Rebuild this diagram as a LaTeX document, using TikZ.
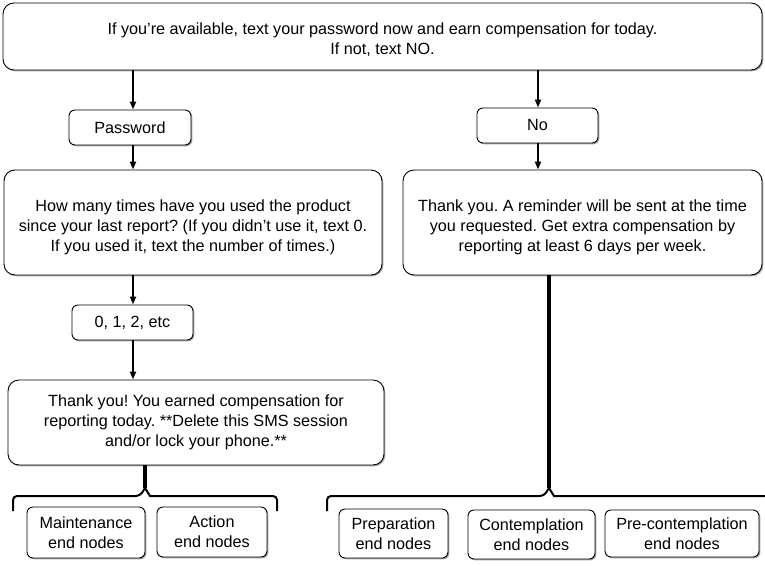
\documentclass[tikz,border=0pt]{standalone}
\usepackage{fontspec}
\setmainfont{Liberation Sans}
\frenchspacing
\usetikzlibrary{shadows,arrows.meta,calc}

\begin{document}
\begin{tikzpicture}[x=1pt,y=-1pt,
  box node/.style={draw,line width=0.9pt,rounded corners=11pt,fill=white,align=center,
    inner sep=0pt,font=\fontsize{16.2}{20}\selectfont,
    drop shadow={shadow xshift=1.3pt,shadow yshift=-1.3pt,fill=black!60,opacity=0.6}},
  small node/.style={box node,rounded corners=6pt},
  step arrow/.style={-{Triangle[length=8pt,width=6pt]},line width=2pt},
  branch line/.style={line width=3.2pt},
  group brace/.style={line width=2pt,rounded corners=4pt}]

\useasboundingbox (0,0) rectangle (765,565);

\node[box node,minimum width=759,minimum height=67,text height=38pt] (top) at (382.5,36.5)
  {If you’re available, text your password now and earn compensation for today.\\If not, text NO.};
\node[small node,minimum width=122,minimum height=35] (pwd) at (130,127.5) {Password};
\node[small node,minimum width=121,minimum height=35] (no) at (537.5,125.5) {No};
\node[box node,minimum width=378,minimum height=105,text height=62pt] (howmany) at (193,222.5)
  {How many times have you used the product\\since your last report? (If you didn’t use it, text 0.\\If you used it, text the number of times.)};
\node[box node,minimum width=359,minimum height=105,text height=62pt] (thanks) at (582.5,222.5)
  {Thank you. A reminder will be sent at the time\\you requested. Get extra compensation by\\reporting at least 6 days per week.};
\node[small node,minimum width=121,minimum height=35] (zero) at (132.5,322.5) {0, 1, 2, etc};
\node[box node,minimum width=376,minimum height=85] (earned) at (196,422.5)
  {Thank you! You earned compensation for\\reporting today. **Delete this SMS session\\and/or lock your phone.**};

\node[small node,minimum width=118,minimum height=51] (maint) at (86,532.5) {Maintenance\\end nodes};
\node[small node,minimum width=110,minimum height=50] (action) at (212,532) {Action\\end nodes};
\node[small node,minimum width=109,minimum height=49] (prep) at (393.5,533.5) {Preparation\\end nodes};
\node[small node,minimum width=127,minimum height=49] (contemp) at (531.5,534.5) {Contemplation\\end nodes};
\node[small node,minimum width=154,minimum height=47] (precontemp) at (682,533.5) {Pre-contemplation\\end nodes};

% brace ends and tips
\coordinate (lb1) at (13,511);
\coordinate (lb2) at (277,511);
\coordinate (ltip) at (145,488);
\coordinate (rb1) at (327,511);
\coordinate (rb2) at (775,511);
\coordinate (rtip) at (549,488);

\path (top.south -| 133,0) edge[step arrow] (pwd.north -| 133,0)
(top.south -| 538,0) edge[step arrow] (no.north -| 538,0)
(pwd.south -| 133,0) edge[step arrow] (howmany.north -| 133,0)
(no.south -| 538,0) edge[step arrow] (thanks.north -| 538,0)
(howmany.south -| 133,0) edge[step arrow] (zero.north -| 133,0)
(zero.south -| 133,0) edge[step arrow] (earned.north -| 133,0);

\draw[branch line] (earned.south -| ltip) -- (ltip);
\draw[branch line] (thanks.south -| rtip) -- (rtip);
\draw[group brace] (lb1) |- ($(ltip)+(-5,8)$) [sharp corners] -- (ltip) -- ($(ltip)+(5,8)$) [rounded corners=4pt] -| (lb2);
\draw[group brace] (rb1) |- ($(rtip)+(-5,8)$) [sharp corners] -- (rtip) -- ($(rtip)+(5,8)$) [rounded corners=4pt] -| (rb2);

\end{tikzpicture}
\end{document}
